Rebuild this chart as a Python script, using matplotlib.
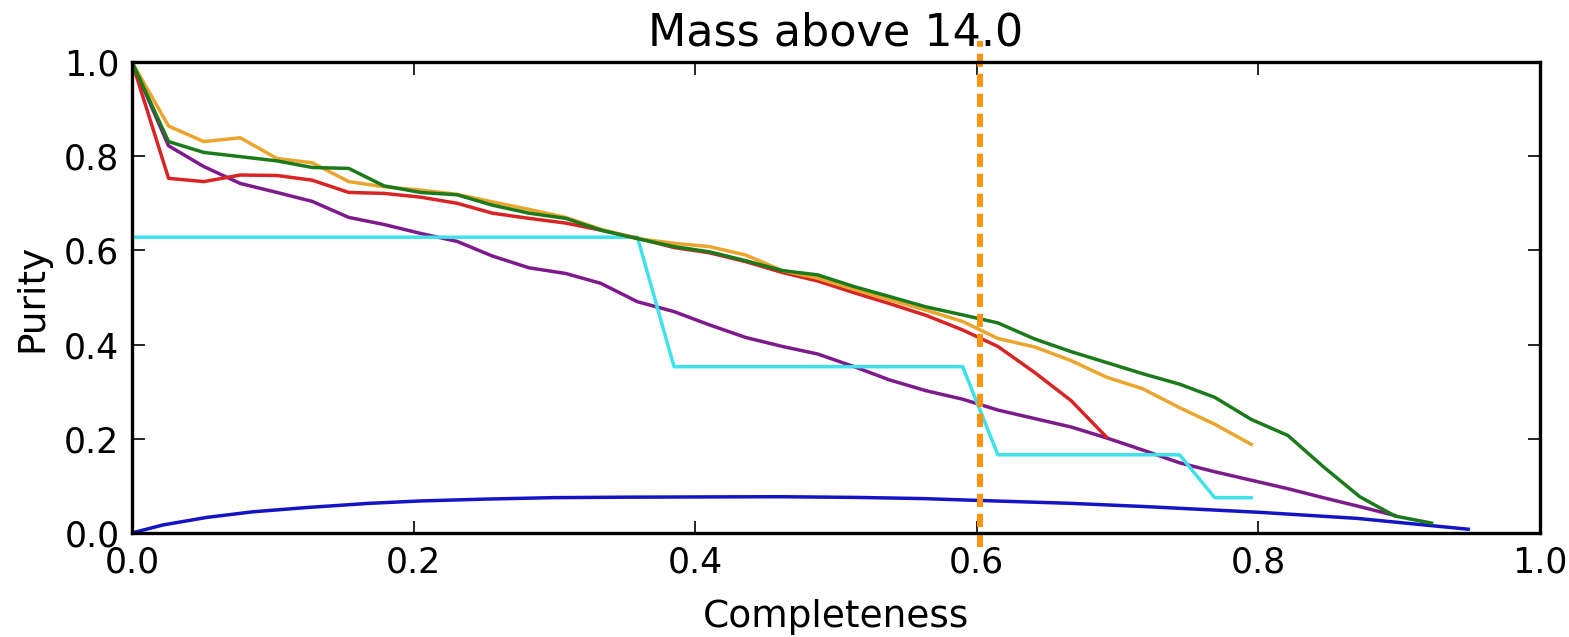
import matplotlib

matplotlib.use("Agg")

import matplotlib.pyplot as plt

# completeness grid shared by the binned selections
COMPLETENESS = [
    0.000, 0.026, 0.051, 0.077, 0.103, 0.128, 0.154, 0.179, 0.205, 0.231,
    0.256, 0.282, 0.308, 0.333, 0.359, 0.385, 0.410, 0.436, 0.462, 0.487,
    0.513, 0.538, 0.564, 0.590, 0.615, 0.641, 0.667, 0.692, 0.718, 0.744,
    0.769, 0.795, 0.821, 0.846, 0.872, 0.897, 0.923, 0.949,
]

PURITY_GREEN = [
    1.000, 0.831, 0.808, 0.799, 0.790, 0.776, 0.774, 0.737, 0.723, 0.718,
    0.696, 0.679, 0.668, 0.643, 0.625, 0.608, 0.597, 0.578, 0.557, 0.548,
    0.523, 0.502, 0.480, 0.463, 0.446, 0.412, 0.385, 0.362, 0.338, 0.316,
    0.288, 0.241, 0.207, 0.141, 0.077, 0.036, 0.021,
]

PURITY_ORANGE = [
    1.000, 0.864, 0.831, 0.839, 0.795, 0.786, 0.746, 0.735, 0.728, 0.719,
    0.703, 0.687, 0.670, 0.645, 0.625, 0.615, 0.608, 0.590, 0.557, 0.541,
    0.517, 0.495, 0.473, 0.449, 0.413, 0.395, 0.366, 0.331, 0.306, 0.266,
    0.231, 0.188,
]

PURITY_RED = [
    1.000, 0.753, 0.746, 0.760, 0.759, 0.749, 0.723, 0.721, 0.713, 0.700,
    0.679, 0.668, 0.658, 0.643, 0.626, 0.606, 0.595, 0.576, 0.553, 0.535,
    0.510, 0.487, 0.462, 0.431, 0.396, 0.341, 0.281, 0.204,
]

PURITY_PURPLE = [
    1.000, 0.822, 0.778, 0.742, 0.723, 0.704, 0.670, 0.655, 0.636, 0.619,
    0.588, 0.563, 0.551, 0.530, 0.491, 0.470, 0.442, 0.415, 0.396, 0.380,
    0.353, 0.325, 0.302, 0.284, 0.261, 0.243, 0.225, 0.202, 0.176, 0.149,
    0.130, 0.112, 0.094, 0.075, 0.056, 0.037,
]

# step-like selection
CYAN_COMPLETENESS = [0.000, 0.359, 0.385, 0.590, 0.615, 0.744, 0.769, 0.795]
CYAN_PURITY = [0.628, 0.628, 0.353, 0.353, 0.166, 0.166, 0.075, 0.075]

# random baseline
BLUE_COMPLETENESS = [
    0.000, 0.022, 0.053, 0.086, 0.124, 0.169, 0.205, 0.252, 0.299, 0.350,
    0.400, 0.460, 0.515, 0.562, 0.602, 0.666, 0.720, 0.800, 0.870, 0.949,
]
BLUE_PURITY = [
    0.000, 0.017, 0.033, 0.045, 0.054, 0.063, 0.068, 0.072, 0.075, 0.076,
    0.0765, 0.077, 0.0755, 0.073, 0.069, 0.063, 0.056, 0.044, 0.031, 0.008,
]

MASS_CUT = 14.0
COMPLETENESS_MARK = 0.602

fig = plt.figure(figsize=(15.69, 6.37), dpi=100)
ax = fig.add_axes([0.0841, 0.1633, 0.8974, 0.7394])

lw = 2.5
ax.plot(BLUE_COMPLETENESS, BLUE_PURITY, color="#1414c4", lw=lw)
ax.plot(COMPLETENESS[:len(PURITY_PURPLE)], PURITY_PURPLE, color="#7d1a8c", lw=lw)
ax.plot(CYAN_COMPLETENESS, CYAN_PURITY, color="#3de2ea", lw=lw)
ax.plot(COMPLETENESS[:len(PURITY_RED)], PURITY_RED, color="#d82424", lw=lw)
ax.plot(COMPLETENESS[:len(PURITY_ORANGE)], PURITY_ORANGE, color="#eba42c", lw=lw)
ax.plot(COMPLETENESS[:len(PURITY_GREEN)], PURITY_GREEN, color="#1b7a1b", lw=lw)

ax.plot([COMPLETENESS_MARK, COMPLETENESS_MARK], [-0.03, 1.045],
        color="#ff9410", lw=4.3, linestyle=(0, (2.2, 1.15)), clip_on=False)

ax.set_xlim(0.0, 1.0)
ax.set_ylim(0.0, 1.0)
ax.set_xticks([0.0, 0.2, 0.4, 0.6, 0.8, 1.0])
ax.set_yticks([0.0, 0.2, 0.4, 0.6, 0.8, 1.0])
ax.tick_params(direction="in", top=True, right=True, length=9, width=1.2,
               labelsize=25, pad=9)
for spine in ax.spines.values():
    spine.set_linewidth(2.4)

ax.set_xlabel("Completeness", fontsize=27, labelpad=14)
ax.set_ylabel("Purity", fontsize=27, labelpad=10)
ax.set_title(f"Mass above {MASS_CUT:.1f}", fontsize=32, pad=12)

fig.savefig("out.png", dpi=100)
